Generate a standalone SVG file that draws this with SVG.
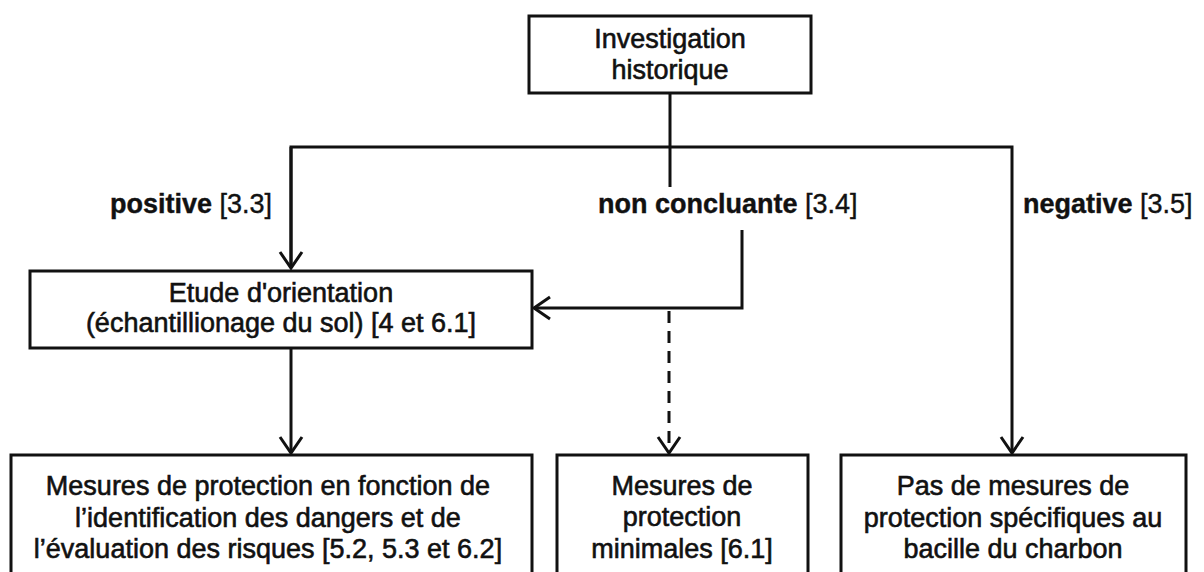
<svg xmlns="http://www.w3.org/2000/svg" width="1204" height="572" viewBox="0 0 1204 572">
<style>
.box{fill:#fff;stroke:#111;stroke-width:3}
.t{font-family:"Liberation Sans",Arial,sans-serif;font-size:27px;fill:#111;text-anchor:middle;stroke:#111;stroke-width:0.6}
.lbl{font-family:"Liberation Sans",Arial,sans-serif;font-size:27px;fill:#111;stroke:#111;stroke-width:0.4}
.b{font-weight:bold}
.c{fill:none;stroke:#111;stroke-width:3}
.d{stroke-dasharray:12 8}
</style>
<defs>
<marker id="arr" markerUnits="userSpaceOnUse" markerWidth="40" markerHeight="40" viewBox="-20 -20 40 40" refX="0" refY="0" orient="auto" overflow="visible">
<path d="M-16,-11 L0,0 L-16,11" fill="none" stroke="#111" stroke-width="3"/>
</marker>
</defs>
<rect width="1204" height="572" fill="#fff"/>
<g id="connectors">
<path class="c" d="M670,93 V187"/>
<path class="c" d="M291,268 V147 H1012 V453" marker-end="url(#arr)"/>
<path class="c" d="M291,147 V268" marker-end="url(#arr)"/>
<path class="c" d="M742,230 V308 H534" marker-end="url(#arr)"/>
<path class="c" d="M291,348 V453" marker-end="url(#arr)"/>
<path class="c d" d="M669,311 V453" marker-end="url(#arr)"/>
</g>
<g id="labels">
<text class="lbl" x="110" y="213"><tspan class="b">positive</tspan> [3.3]</text>
<text class="lbl" x="598" y="213"><tspan class="b">non concluante</tspan> [3.4]</text>
<text class="lbl" x="1023" y="213"><tspan class="b">negative</tspan> [3.5]</text>
</g>
<g id="investigation">
<rect class="box" x="529" y="16" width="282" height="77"/>
<text class="t" x="670" y="48">Investigation</text>
<text class="t" x="670" y="79">historique</text>
</g>
<g id="etude">
<rect class="box" x="30" y="271" width="502" height="77"/>
<text class="t" x="281" y="302">Etude d'orientation</text>
<text class="t" x="281" y="332">(échantillionage du sol) [4 et 6.1]</text>
</g>
<g id="mesures-risques">
<rect class="box" x="11" y="455" width="521" height="140"/>
<text class="t" x="268" y="495">Mesures de protection en fonction de</text>
<text class="t" x="268" y="527">l’identification des dangers et de</text>
<text class="t" x="268" y="558">l’évaluation des risques [5.2, 5.3 et 6.2]</text>
</g>
<g id="mesures-minimales">
<rect class="box" x="557" y="455" width="251" height="140"/>
<text class="t" x="682" y="495">Mesures de</text>
<text class="t" x="682" y="526">protection</text>
<text class="t" x="682" y="558">minimales [6.1]</text>
</g>
<g id="pas-de-mesures">
<rect class="box" x="841" y="455" width="345" height="140"/>
<text class="t" x="1013" y="495">Pas de mesures de</text>
<text class="t" x="1013" y="527">protection spécifiques au</text>
<text class="t" x="1013" y="558">bacille du charbon</text>
</g>
</svg>
